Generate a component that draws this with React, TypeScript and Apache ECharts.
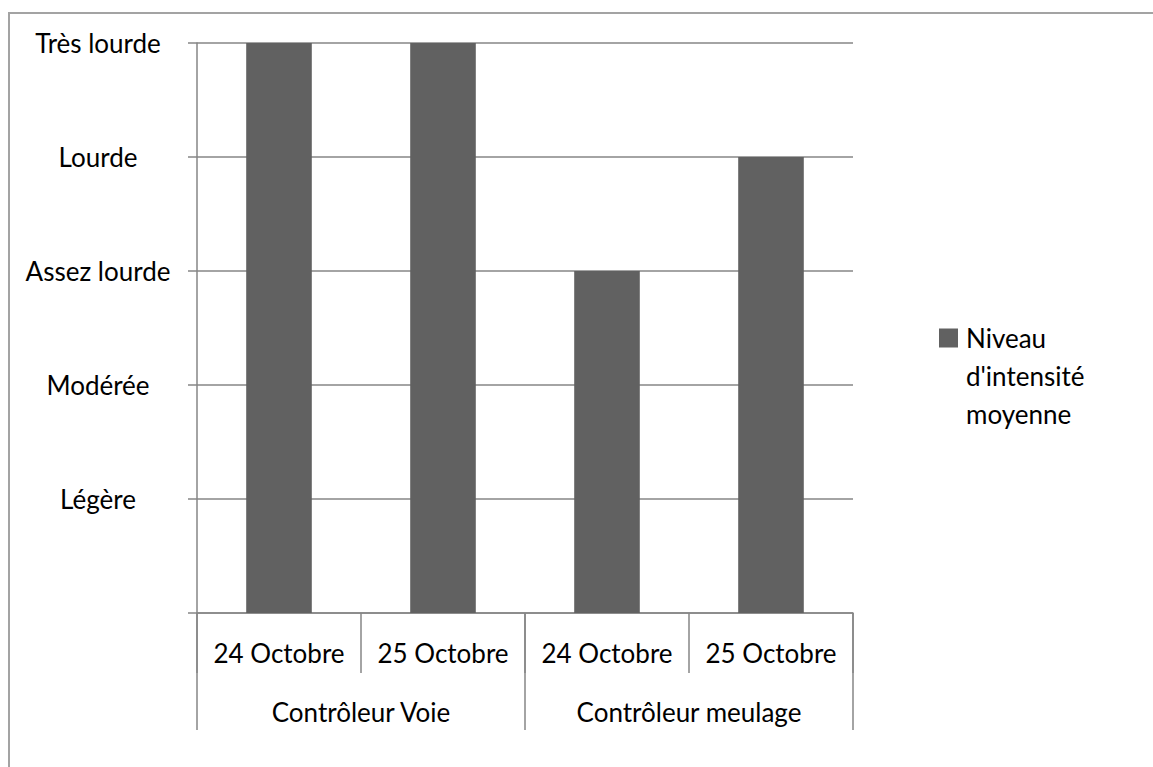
import React, { useEffect, useRef } from "react";
import * as echarts from "echarts";

const categories = ["24 Octobre", "25 Octobre", "24 Octobre", "25 Octobre"];
const groups = ["Contrôleur Voie", "Contrôleur meulage"];
const values = [5, 5, 3, 4];
const levelLabels = ["", "Légère", "Modérée", "Assez lourde", "Lourde", "Très lourde"];
const seriesName = "Niveau d'intensité moyenne";

const FONT = "Lato";
const TEXT = "#000000";
const LINE = "#868686";
const BAR = "#616161";
const FS = 26;

export default function App() {
  const ref = useRef<HTMLDivElement>(null);
  useEffect(() => {
    if (!ref.current) return;
    const chart = echarts.init(ref.current, null, { renderer: "svg" });
    chart.setOption({
      animation: false,
      backgroundColor: "#ffffff",
      textStyle: { fontFamily: FONT },
      grid: { left: 197, right: 300, top: 43, bottom: 154, containLabel: false },
      legend: {
        left: 939,
        top: 243,
        padding: 0,
        icon: "rect",
        itemWidth: 19,
        itemHeight: 19,
        data: [seriesName],
        formatter: () => "\n\nNiveau\nd'intensité\nmoyenne",
        textStyle: { fontFamily: FONT, fontSize: FS, lineHeight: 38, color: TEXT, padding: [0, 0, 0, 3] },
      },
      xAxis: [
        {
          type: "category",
          data: categories,
          position: "bottom",
          axisLine: { show: true, lineStyle: { color: LINE, width: 1.5 } },
          axisTick: { show: true, length: 60, lineStyle: { color: LINE, width: 1.5 } },
          axisLabel: { margin: 40, verticalAlign: "middle", fontSize: FS, color: TEXT, fontFamily: FONT, interval: 0 },
          splitLine: { show: false },
        },
        {
          type: "category",
          data: groups,
          position: "bottom",
          axisLine: { show: false },
          axisTick: { show: true, length: 117, lineStyle: { color: LINE, width: 1.5 } },
          axisLabel: { margin: 99, verticalAlign: "middle", fontSize: FS, color: TEXT, fontFamily: FONT, interval: 0 },
          splitLine: { show: false },
        },
      ],
      yAxis: {
        type: "value",
        min: 0,
        max: 5,
        interval: 1,
        axisLine: { show: true, lineStyle: { color: LINE, width: 1.5 } },
        axisTick: { show: true, length: 9, lineStyle: { color: LINE, width: 1.5 } },
        splitLine: { show: true, lineStyle: { color: LINE, width: 1.5 } },
        axisLabel: {
          margin: 99,
          align: "center",
          fontSize: FS,
          color: TEXT,
          fontFamily: FONT,
          formatter: (v: number) => levelLabels[Math.round(v)] ?? "",
        },
      },
      series: [
        {
          name: seriesName,
          type: "bar",
          xAxisIndex: 0,
          data: values,
          barWidth: "40%",
          itemStyle: { color: BAR },
        },
      ],
      graphic: [
        {
          type: "rect",
          shape: { x: 9, y: 13, width: 2000, height: 2000 },
          style: { fill: "none", stroke: "#a3a3a3", lineWidth: 2 },
          silent: true,
        },
      ],
    });
    return () => chart.dispose();
  }, []);
  return (
    <div
      ref={ref}
      style={{ position: "fixed", left: 0, top: 0, width: 1153, height: 767 }}
    />
  );
}
